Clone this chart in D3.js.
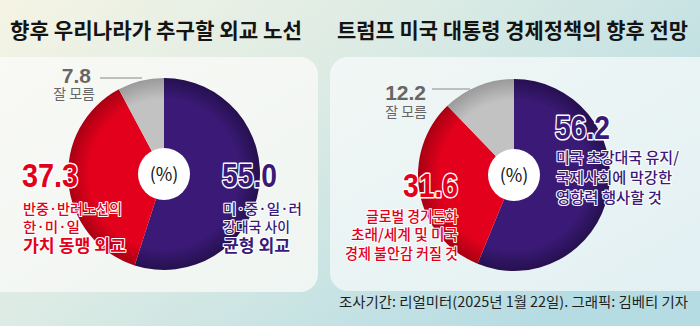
<!DOCTYPE html>
<html>
<head>
<meta charset="utf-8">
<script src="https://cdn.jsdelivr.net/npm/d3@7"></script>
<style>
  html, body { margin: 0; padding: 0; background: #fff; }
  svg { display: block; }
  text { font-family: "Noto Sans CJK KR", "Noto Sans", sans-serif; }
  .num { font-family: "Liberation Sans Narrow", "Liberation Sans", Arial, sans-serif; font-weight: 700; }
</style>
</head>
<body>
<svg id="chart" width="700" height="326"></svg>
<script>
// Survey results (%), slices drawn clockwise from 12 o'clock
const sliceKeys = ["main", "second", "unknown"];
const leftValues = [55.0, 37.3, 7.8];
const rightValues = [56.2, 31.6, 12.2];

const leftTitle = "향후 우리나라가 추구할 외교 노선";
const rightTitle = "트럼프 미국 대통령 경제정책의 향후 전망";

const leftMainLabel = ["미·중·일·러", "강대국 사이", "균형 외교"];
const leftSecondLabel = ["반중·반러노선의", "한·미·일", "가치 동맹 외교"];
const rightMainLabel = ["미국 초강대국 유지/", "국제사회에 막강한", "영향력 행사할 것"];
const rightSecondLabel = ["글로벌 경기둔화", "초래/세계 및 미국", "경제 불안감 커질 것"];
const unknownLabel = "잘 모름";
const sourceNote = "조사기간: 리얼미터(2025년 1월 22일). 그래픽: 김베티 기자";

const colors = {
  main:    { base: "#3a1a76", edge: "#26104f" },
  second:  { base: "#e3001c", edge: "#a80013" },
  unknown: { base: "#c2c2c2", edge: "#9a9a9a" }
};
const mainText = "#3a1a78";
const secondText = "#e2001a";
const grayText = "#666666";

const svg = d3.select("#chart");
const W = 700, H = 326;
const defs = svg.append("defs");

// Page background: warm cream on the left fading into pale teal on the right
const bg = defs.append("linearGradient").attr("id", "bg")
  .attr("x1", "0%").attr("y1", "0%").attr("x2", "100%").attr("y2", "60%");
bg.append("stop").attr("offset", "0%").attr("stop-color", "#f5f4e4");
bg.append("stop").attr("offset", "45%").attr("stop-color", "#dcebe4");
bg.append("stop").attr("offset", "100%").attr("stop-color", "#b6dce3");
svg.append("rect").attr("width", W).attr("height", H).attr("fill", "url(#bg)");

const pl = defs.append("linearGradient").attr("id", "panelL")
  .attr("x1", "0%").attr("y1", "0%").attr("x2", "100%").attr("y2", "100%");
pl.append("stop").attr("offset", "0%").attr("stop-color", "#f9f9f5");
pl.append("stop").attr("offset", "100%").attr("stop-color", "#eff5f2");
const pr = defs.append("linearGradient").attr("id", "panelR")
  .attr("x1", "0%").attr("y1", "0%").attr("x2", "100%").attr("y2", "100%");
pr.append("stop").attr("offset", "0%").attr("stop-color", "#f1f7f5");
pr.append("stop").attr("offset", "100%").attr("stop-color", "#e2f0f3");

// Rounded content panels
svg.append("rect").attr("x", -20).attr("y", 57).attr("width", 338).attr("height", 235)
  .attr("rx", 18).attr("fill", "url(#panelL)");
svg.append("rect").attr("x", 330).attr("y", 57).attr("width", 390).attr("height", 234)
  .attr("rx", 18).attr("fill", "url(#panelR)");

// Titles
function title(txt, x, len) {
  svg.append("text").attr("x", x).attr("y", 38)
    .attr("font-size", 21).attr("font-weight", 700).attr("fill", "#141414")
    .attr("textLength", len).attr("lengthAdjust", "spacingAndGlyphs")
    .text(txt);
}
title(leftTitle, 10, 292);
title(rightTitle, 337, 351);

const pie = d3.pie().sort(null).startAngle(0).endAngle(2 * Math.PI);

function donut(id, cx, cy, values) {
  const rOut = 96, rIn = 26;
  const g = svg.append("g").attr("transform", `translate(${cx},${cy})`);
  sliceKeys.forEach(k => {
    const rg = defs.append("radialGradient").attr("id", `${id}-${k}`)
      .attr("gradientUnits", "userSpaceOnUse")
      .attr("cx", 0).attr("cy", 0).attr("r", rOut);
    rg.append("stop").attr("offset", "0%").attr("stop-color", colors[k].base);
    rg.append("stop").attr("offset", "78%").attr("stop-color", colors[k].base);
    rg.append("stop").attr("offset", "100%").attr("stop-color", colors[k].edge);
  });
  const arc = d3.arc().innerRadius(0).outerRadius(rOut);
  g.selectAll("path").data(pie(values)).join("path")
    .attr("d", arc)
    .attr("fill", (d, i) => `url(#${id}-${sliceKeys[i]})`);
  g.append("circle").attr("r", rIn).attr("fill", "#ffffff");
  g.append("text").attr("text-anchor", "middle").attr("y", 7)
    .attr("font-size", 18).attr("fill", "#111").text("(%)");
  return g;
}

donut("L", 164, 174, leftValues);
donut("R", 514, 175, rightValues);

const fmt = d3.format(".1f");

function bigNum(v, x, y, color, anchor, len) {
  svg.append("text").attr("class", "num")
    .attr("x", x).attr("y", y).attr("text-anchor", anchor)
    .attr("font-size", 34).attr("fill", color)
    .attr("stroke", "#ffffff").attr("stroke-width", 3).attr("paint-order", "stroke")
    .attr("stroke-linejoin", "round")
    .attr("textLength", len).attr("lengthAdjust", "spacingAndGlyphs")
    .text(fmt(v));
}
function lines(arr, x, ys, color, anchor, sizes, weights, lens) {
  arr.forEach((t, i) => {
    svg.append("text").attr("x", x).attr("y", ys[i]).attr("text-anchor", anchor)
      .attr("font-size", sizes[i]).attr("font-weight", weights[i]).attr("fill", color)
      .attr("stroke", "#ffffff").attr("stroke-width", 2).attr("paint-order", "stroke")
      .attr("stroke-linejoin", "round")
      .attr("textLength", lens[i]).attr("lengthAdjust", "spacingAndGlyphs")
      .text(t);
  });
}
function unknown(v, xNum, yNum, lineX1, lineX2, lineY, xLab, yLab) {
  svg.append("text").attr("class", "num").attr("x", xNum).attr("y", yNum)
    .attr("text-anchor", "end").attr("font-size", 21).attr("font-weight", 400)
    .attr("fill", grayText).text(fmt(v));
  svg.append("line").attr("x1", lineX1).attr("x2", lineX2).attr("y1", lineY).attr("y2", lineY)
    .attr("stroke", "#8a8a8a").attr("stroke-width", 1.2);
  svg.append("text").attr("x", xLab).attr("y", yLab).attr("text-anchor", "end")
    .attr("font-size", 14).attr("fill", grayText).text(unknownLabel);
}

// Left panel labels
unknown(leftValues[2], 91, 83, 100, 142, 78, 95, 99);
bigNum(leftValues[1], 22, 187, secondText, "start", 56);
lines(leftSecondLabel, 23, [214, 232, 252], secondText, "start", [14, 14, 17], [500, 500, 700], [99, 57, 103]);
bigNum(leftValues[0], 222, 187, mainText, "start", 55);
lines(leftMainLabel, 223, [214, 232, 252], mainText, "start", [14, 14, 17], [500, 500, 700], [79, 67, 67]);

// Right panel labels
unknown(rightValues[2], 426, 100, 432, 470, 89, 427, 117);
bigNum(rightValues[0], 555, 139, mainText, "start", 55);
lines(rightMainLabel, 556, [163, 183, 203], mainText, "start", [15, 15, 15], [500, 500, 500], [123, 116, 106]);
bigNum(rightValues[1], 458, 197, secondText, "end", 55);
lines(rightSecondLabel, 458, [222, 240, 259], secondText, "end", [15, 15, 15], [500, 500, 500], [92, 107, 113]);

// Source note
svg.append("text").attr("x", 688).attr("y", 307).attr("text-anchor", "end")
  .attr("font-size", 14).attr("fill", "#1e1e1e")
  .attr("textLength", 349).attr("lengthAdjust", "spacingAndGlyphs")
  .text(sourceNote);
</script>
</body>
</html>
